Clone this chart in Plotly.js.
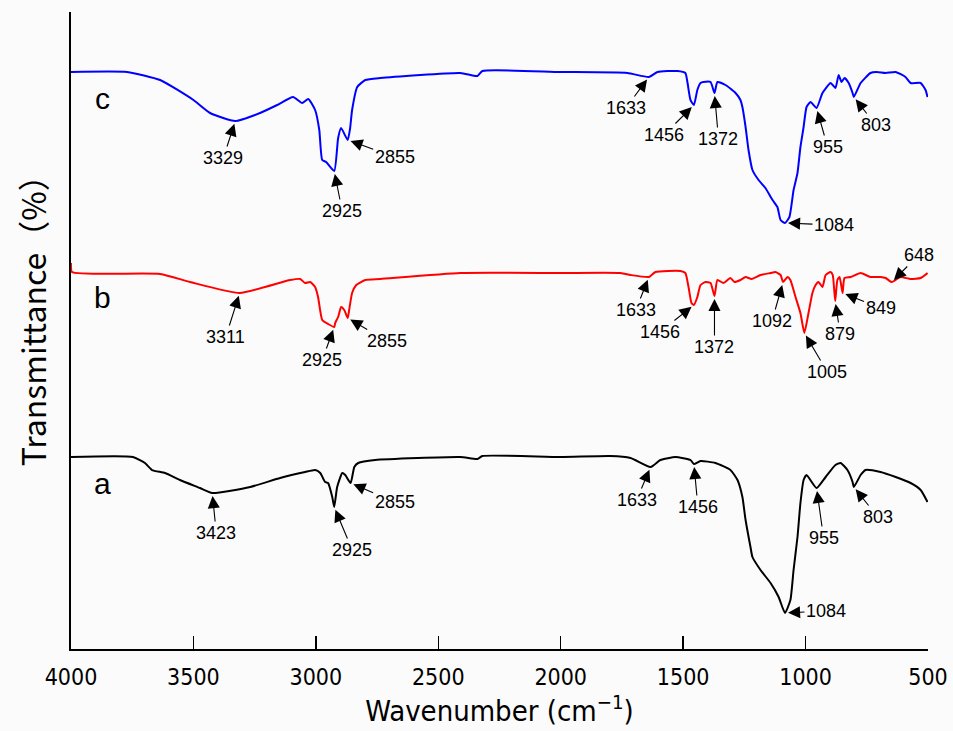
<!DOCTYPE html>
<html>
<head>
<meta charset="utf-8">
<script src="https://cdn.plot.ly/plotly-3.0.1.min.js"></script>
<style>html,body{margin:0;padding:0;background:#fbfbfb;}#chart{width:953px;height:731px;}</style>
</head>
<body>
<div id="chart"></div>
<script>
// ---- data (wavenumber in cm^-1, transmittance in arbitrary offset units) ----
const waveC = [4000,3771,3636,3500,3432,3329,3228,3158,3093,3056,3031,3003,2986,2974,2958,2925,2909,2897,2870,2860,2852,2831,2798,2737,2410,2340,2320,2001,1728,1640,1605,1523,1491,1482,1470,1456,1442,1429,1417,1388,1372,1360,1327,1286,1266,1258,1245,1233,1217,1192,1164,1135,1115,1102,1084,1066,1049,1033,1021,1008,996,980,955,931,898,878,865,853,841,824,808,803,775,735,710,673,632,592,571,530,510,502];
const transC = [57.7,57.7,56.9,54.9,53.6,52.8,53.6,54.4,55.2,54.6,55.0,53.9,51.9,48.9,48.7,47.8,51.1,52.1,50.9,52.1,53.9,56.2,56.9,57.1,57.6,57.3,57.8,57.7,57.6,57.2,57.7,57.8,57.6,56.6,54.9,54.4,55.9,56.6,56.7,56.7,55.6,56.7,56.4,55.6,54.9,54.2,52.2,49.9,47.9,46.9,46.1,44.9,44.2,42.9,42.6,43.2,45.9,47.6,50.2,52.2,54.2,54.7,54.1,55.6,56.6,56.1,57.4,56.7,57.1,56.6,55.6,55.2,56.6,57.6,57.7,57.6,57.7,57.2,56.6,56.6,55.9,55.2];

const waveB = [4000,3996,3636,3514,3311,3105,3064,3044,3023,3003,2991,2974,2950,2925,2921,2909,2897,2884,2870,2864,2852,2835,2798,2737,2410,2001,1756,1715,1640,1613,1511,1491,1478,1466,1456,1442,1429,1409,1388,1372,1360,1335,1307,1290,1266,1245,1220,1184,1143,1123,1102,1092,1074,1062,1041,1021,1005,988,972,959,947,931,918,898,889,879,870,861,849,841,816,775,735,694,673,648,612,571,530,502];
const transB = [38.6,37.7,37.5,36.7,35.6,36.9,37.0,36.6,36.7,36.2,35.2,32.9,32.5,32.2,32.6,33.2,34.2,33.9,33.1,33.9,35.6,36.4,36.9,37.0,37.6,37.6,37.6,37.4,37.2,37.7,37.8,37.6,36.2,34.6,34.4,35.2,36.4,36.7,36.6,35.3,36.9,36.6,37.1,36.7,36.9,37.2,37.0,37.4,37.6,37.7,37.4,36.7,37.2,36.9,35.2,33.6,31.6,33.6,35.6,36.4,36.7,36.2,37.4,37.7,37.4,34.8,36.9,37.2,35.6,37.1,37.2,37.6,37.2,37.2,37.1,36.7,37.2,37.0,37.1,37.6];

const waveA = [4000,3747,3698,3669,3616,3555,3473,3423,3268,3146,3044,3003,2982,2962,2950,2933,2925,2913,2892,2880,2858,2843,2827,2758,2410,2340,2320,2001,1797,1715,1633,1593,1531,1470,1456,1429,1368,1307,1278,1258,1245,1225,1217,1184,1143,1110,1084,1062,1049,1033,1021,1008,996,955,918,878,857,829,808,803,775,755,694,632,571,530,502];
const transA = [19.2,19.2,18.6,17.9,17.6,16.9,16.1,15.6,16.2,17.1,17.7,17.9,17.6,16.7,16.6,15.2,14.2,16.2,17.6,17.4,16.6,18.2,18.6,18.9,19.2,19.0,19.3,19.2,19.3,19.1,18.2,18.9,19.2,18.9,18.5,18.8,18.6,17.9,16.9,15.2,12.9,10.2,9.2,7.9,6.6,5.2,3.6,4.9,7.9,11.2,14.6,16.9,17.4,16.1,17.2,18.4,18.6,17.9,16.7,16.2,17.4,17.9,17.7,17.2,16.6,15.9,14.7];

const seriesNames = ["a", "b", "c"];
const peaksA = [3423, 2925, 2855, 1633, 1456, 1084, 955, 803];
const peaksB = [3311, 2925, 2855, 1633, 1456, 1372, 1092, 1005, 879, 849, 648];
const peaksC = [3329, 2925, 2855, 1633, 1456, 1372, 1084, 955, 803];
const xTicks = [4000, 3500, 3000, 2500, 2000, 1500, 1000, 500];

// ---- label placement (pixel offsets of the text from the marked point) ----
const offA = [[4,40],[18,43],[44,19],[-14,33],[4,43],[41,-2],[7,50],[24,30]];
const offB = [[-14,44],[-12,33],[39,23],[-13,33],[-34,27],[0,51],[-11,39],[23,39],[5,33],[38,15],[27,-27]];
const offC = [[-12,37],[8,40],[47,17],[-23,31],[-30,30],[4,46],[49,2],[11,39],[22,28]];
const nameLabelX = 3873;
const nameLabelY = [16.6, 35.2, 55.1];

function localMin(xs, ys, target) {
  let best = -1;
  for (let i = 0; i < xs.length; i++) {
    if (Math.abs(xs[i] - target) <= 22 && (best < 0 || ys[i] < ys[best])) best = i;
  }
  if (best < 0) {
    best = 0;
    for (let i = 0; i < xs.length; i++) if (Math.abs(xs[i]-target) < Math.abs(xs[best]-target)) best = i;
  }
  return [xs[best], ys[best]];
}

const annotations = [];
function addPeaks(xs, ys, peaks, offs) {
  peaks.forEach((p, i) => {
    const pt = localMin(xs, ys, p);
    annotations.push({
      x: pt[0], y: pt[1], xref: 'x', yref: 'y',
      text: String(p), showarrow: true,
      ax: offs[i][0], ay: offs[i][1],
      arrowhead: 2, arrowsize: 2.2, arrowwidth: 1.1, arrowcolor: '#000',
      standoff: 3,
      font: {family: 'Liberation Sans, Arial, sans-serif', size: 18, color: '#000'}
    });
  });
}
addPeaks(waveA, transA, peaksA, offA);
addPeaks(waveB, transB, peaksB, offB);
addPeaks(waveC, transC, peaksC, offC);

seriesNames.forEach((n, i) => {
  annotations.push({
    x: nameLabelX, y: nameLabelY[i], xref: 'x', yref: 'y', text: n, showarrow: false,
    font: {family: 'Liberation Sans, Arial, sans-serif', size: 30, color: '#000'}
  });
});

annotations.push({
  xref: 'paper', yref: 'paper', x: -0.046, y: 0.528, xanchor: 'center', yanchor: 'middle',
  text: 'Transmittance（%）',
  showarrow: false, textangle: -90,
  font: {family: 'Noto Sans CJK SC, sans-serif', size: 32, color: '#000'}
});

const traces = [
  {x: waveA, y: transA, type: 'scatter', mode: 'lines', name: 'a', line: {color: '#000000', width: 2, shape: 'spline', smoothing: 0.5}},
  {x: waveB, y: transB, type: 'scatter', mode: 'lines', name: 'b', line: {color: '#ff0000', width: 2, shape: 'spline', smoothing: 0.5}},
  {x: waveC, y: transC, type: 'scatter', mode: 'lines', name: 'c', line: {color: '#0000ff', width: 2, shape: 'spline', smoothing: 0.5}}
];

const layout = {
  width: 953, height: 731,
  paper_bgcolor: '#fbfbfb', plot_bgcolor: '#fbfbfb',
  margin: {l: 71, r: 25, t: 12, b: 82},
  showlegend: false,
  xaxis: {
    range: [4000, 500], tickvals: xTicks, ticktext: xTicks.map(String),
    ticks: 'inside', ticklen: 13, tickwidth: 1.5, tickcolor: '#000',
    showline: true, linecolor: '#000', linewidth: 2, showgrid: false, zeroline: false,
    ticklabelstandoff: 6,
    tickfont: {family: 'Liberation Sans Narrow, DejaVu Sans Condensed, sans-serif', size: 23, color: '#000'},
    title: {text: 'Wavenumber (cm<sup>−1</sup>)', standoff: 8,
      font: {family: 'Liberation Sans Narrow, DejaVu Sans Condensed, sans-serif', size: 29, color: '#000'}}
  },
  yaxis: {
    range: [0, 63.7], showticklabels: false, ticks: '', showgrid: false, zeroline: false,
    showline: true, linecolor: '#000', linewidth: 2
  },
  annotations: annotations
};

Plotly.newPlot('chart', traces, layout, {displayModeBar: false, staticPlot: true});
</script>
</body>
</html>
